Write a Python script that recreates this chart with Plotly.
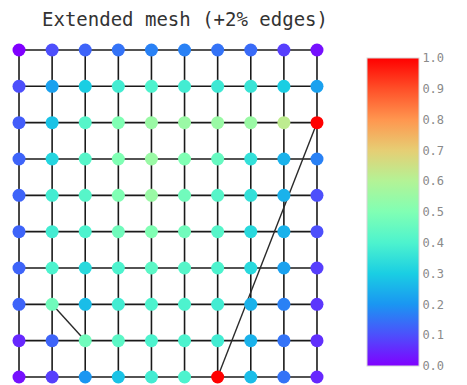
import plotly.graph_objects as go

# Node values on a 10x10 mesh, listed row by row from the top row (y=9) down to y=0
row_y9 = [0.00, 0.10, 0.13, 0.15, 0.17, 0.17, 0.15, 0.14, 0.08, 0.02]
row_y8 = [0.10, 0.22, 0.30, 0.38, 0.40, 0.38, 0.37, 0.36, 0.30, 0.22]
row_y7 = [0.12, 0.28, 0.42, 0.50, 0.55, 0.55, 0.55, 0.55, 0.62, 1.00]
row_y6 = [0.13, 0.32, 0.42, 0.50, 0.55, 0.50, 0.45, 0.35, 0.25, 0.17]
row_y5 = [0.13, 0.38, 0.42, 0.50, 0.55, 0.47, 0.42, 0.35, 0.25, 0.10]
row_y4 = [0.13, 0.38, 0.40, 0.47, 0.50, 0.47, 0.42, 0.33, 0.25, 0.10]
row_y3 = [0.13, 0.40, 0.33, 0.40, 0.43, 0.42, 0.40, 0.33, 0.22, 0.08]
row_y2 = [0.13, 0.47, 0.27, 0.38, 0.40, 0.40, 0.38, 0.25, 0.17, 0.07]
row_y1 = [0.05, 0.13, 0.47, 0.43, 0.40, 0.40, 0.38, 0.25, 0.15, 0.06]
row_y0 = [0.02, 0.08, 0.20, 0.28, 0.38, 0.40, 1.00, 0.27, 0.15, 0.05]

rows_top_down = [row_y9, row_y8, row_y7, row_y6, row_y5,
                 row_y4, row_y3, row_y2, row_y1, row_y0]
grid_n = 10

# Additional long-range edges added to the mesh: ((x1, y1), (x2, y2))
extra_edges = [((1, 2), (2, 1)), ((6, 0), (9, 7))]

tick_values = [0.0, 0.1, 0.2, 0.3, 0.4, 0.5, 0.6, 0.7, 0.8, 0.9, 1.0]
tick_labels = ["0.0", "0.1", "0.2", "0.3", "0.4", "0.5", "0.6", "0.7", "0.8", "0.9", "1.0"]

rainbow = [
    [0.0, "#8000ff"], [0.1, "#4d4ffc"], [0.2, "#1a96f2"], [0.3, "#1acee3"],
    [0.4, "#4df3ce"], [0.5, "#80ffb4"], [0.6, "#b3f396"], [0.7, "#e6ce74"],
    [0.8, "#ff964f"], [0.9, "#ff4f28"], [1.0, "#ff0000"],
]

# Node coordinates and values
xs, ys, vals = [], [], []
for i, row in enumerate(rows_top_down):
    y = grid_n - 1 - i
    for x, v in enumerate(row):
        xs.append(x)
        ys.append(y)
        vals.append(v)

# Mesh edges: right and up neighbours
ex, ey = [], []
for y in range(grid_n):
    for x in range(grid_n):
        if x + 1 < grid_n:
            ex += [x, x + 1, None]
            ey += [y, y, None]
        if y + 1 < grid_n:
            ex += [x, x, None]
            ey += [y, y + 1, None]

lx, ly = [], []
for (x1, y1), (x2, y2) in extra_edges:
    lx += [x1, x2, None]
    ly += [y1, y2, None]

# Plot area in pixels: left 10, right 326, top 36, bottom 381
plot_l, plot_r, plot_t, plot_b = 10, 326, 36, 381
pw, ph = plot_r - plot_l, plot_b - plot_t

fig = go.Figure()
fig.add_trace(go.Scatter(
    x=ex, y=ey, mode="lines",
    line=dict(color="#1a1a1a", width=1.6),
    hoverinfo="skip", showlegend=False,
))
fig.add_trace(go.Scatter(
    x=lx, y=ly, mode="lines",
    line=dict(color="#2a2a2a", width=1.4),
    hoverinfo="skip", showlegend=False,
))
fig.add_trace(go.Scatter(
    x=xs, y=ys, mode="markers",
    cliponaxis=False,
    marker=dict(
        size=13, color=vals, colorscale=rainbow, cmin=0, cmax=1,
        line=dict(width=0),
        colorbar=dict(
            x=(367 - plot_l) / pw, xanchor="left", xpad=0,
            y=(plot_b - 58) / ph, yanchor="top", ypad=0,
            thickness=52, thicknessmode="pixels",
            len=308, lenmode="pixels",
            tickvals=tick_values, ticktext=tick_labels,
            ticks="", ticklabelposition="outside",
            tickfont=dict(family="DejaVu Sans Mono", size=12, color="#8a8a8a"),
            outlinewidth=1, outlinecolor="#d8d8d8",
        ),
    ),
    showlegend=False,
))

fig.update_layout(
    width=467, height=385,
    margin=dict(l=plot_l, r=467 - plot_r, t=plot_t, b=385 - plot_b),
    paper_bgcolor="white", plot_bgcolor="white",
    title=dict(
        text="Extended mesh (+2% edges)",
        xref="container", x=185 / 467, xanchor="center",
        yref="container", y=1 - 19 / 385, yanchor="middle",
        font=dict(family="DejaVu Sans Mono", size=19, color="#333333"),
    ),
    xaxis=dict(range=[-0.272, 9.272], visible=False, fixedrange=True),
    yaxis=dict(range=[-0.11, 9.385], visible=False, fixedrange=True),
)

fig.write_html("out.html")
